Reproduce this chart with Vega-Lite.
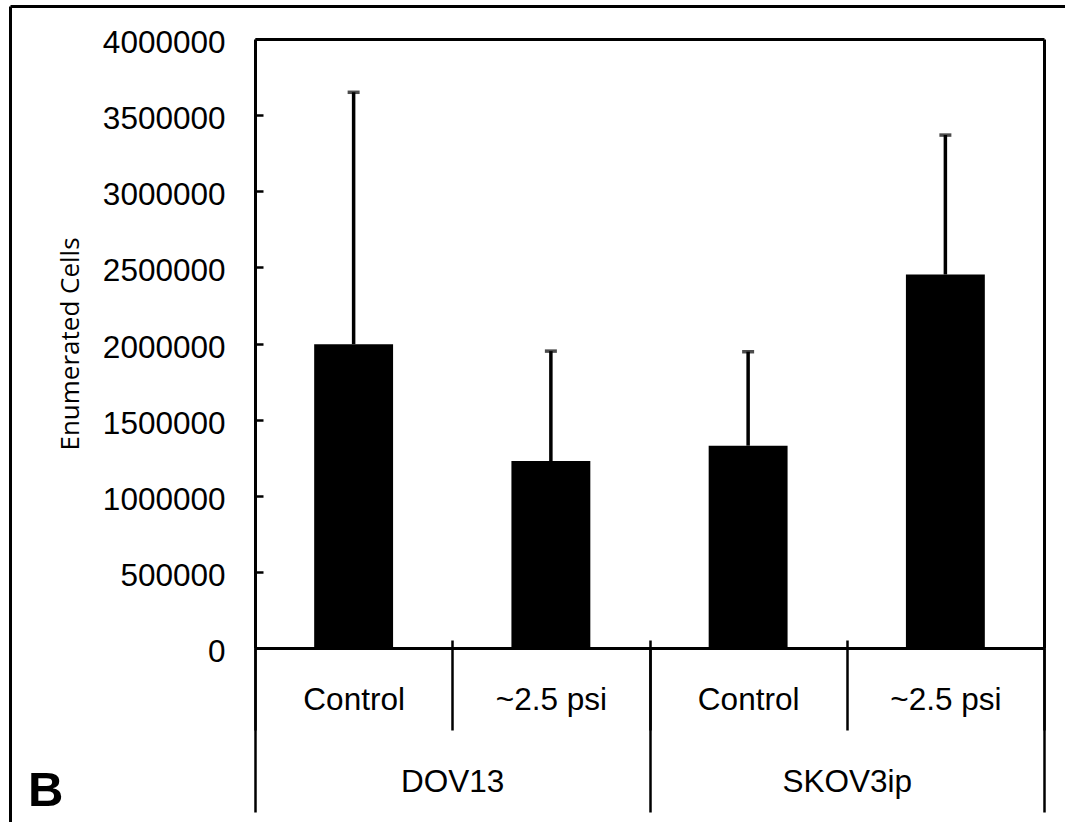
{
  "$schema": "https://vega.github.io/schema/vega-lite/v6.json",
  "width": 1055,
  "height": 816,
  "autosize": {"type": "none"},
  "padding": {"left": 10, "top": 6, "right": 0, "bottom": 0},
  "background": "white",
  "title": {
    "text": "B",
    "orient": "bottom",
    "anchor": "start",
    "frame": "group",
    "font": "Liberation Sans",
    "fontSize": 49,
    "fontWeight": "bold",
    "color": "black",
    "baseline": "alphabetic",
    "offset": -16,
    "dx": 18
  },
  "datasets": {
    "bars": [
      {"key": "DOV13|Control", "group": "DOV13", "cond": "Control", "mean": 1995000, "upper": 3650000},
      {"key": "DOV13|~2.5 psi", "group": "DOV13", "cond": "~2.5 psi", "mean": 1228000, "upper": 1950000},
      {"key": "SKOV3ip|Control", "group": "SKOV3ip", "cond": "Control", "mean": 1329000, "upper": 1946000},
      {"key": "SKOV3ip|~2.5 psi", "group": "SKOV3ip", "cond": "~2.5 psi", "mean": 2454000, "upper": 3369000}
    ],
    "groups": [
      {"group": "DOV13"},
      {"group": "SKOV3ip"}
    ]
  },
  "config": {
    "view": {"stroke": null},
    "axis": {
      "grid": false,
      "domainColor": "black",
      "tickColor": "black",
      "labelColor": "black",
      "titleColor": "black",
      "labelFont": "Liberation Sans",
      "labelFontSize": 31.5,
      "domainWidth": 3,
      "tickWidth": 2.5
    }
  },
  "resolve": {
    "scale": {"x": "independent", "y": "independent"},
    "axis": {"x": "independent", "y": "independent"}
  },
  "layer": [
    {
      "data": {"name": "bars"},
      "mark": {"type": "bar", "color": "black", "width": {"band": 0.4}},
      "encoding": {
        "x": {
          "field": "key", "type": "nominal",
          "scale": {"domain": ["DOV13|Control", "DOV13|~2.5 psi", "SKOV3ip|Control", "SKOV3ip|~2.5 psi"], "range": [245, 1034], "paddingInner": 0, "paddingOuter": 0},
          "axis": {
            "orient": "bottom", "offset": -182, "title": null, "domain": false,
            "ticks": true, "tickBand": "extent", "tickSize": 90,
            "labelExpr": "split(datum.value, '|')[1]",
            "labelAngle": 0, "labelBaseline": "alphabetic", "labelPadding": -20.5,
            "labelOverlap": false
          }
        },
        "y": {
          "field": "mean", "type": "quantitative",
          "scale": {"domain": [0, 4000000], "range": [642, 33], "nice": false, "zero": true},
          "axis": {
            "orient": "left", "offset": -245,
            "values": [0, 500000, 1000000, 1500000, 2000000, 2500000, 3000000, 3500000, 4000000],
            "format": "d",
            "tickSize": -8,
            "labelPadding": 38, "labelBaseline": "alphabetic", "labelOffset": 13.5,
            "labelOverlap": false,
            "title": "Enumerated Cells",
            "titleFont": "Open Sans", "titleFontSize": 26, "titleFontWeight": "normal",
            "titlePadding": 19
          }
        }
      }
    },
    {
      "data": {"name": "bars"},
      "mark": {"type": "rule", "color": "black", "strokeWidth": 3.5},
      "encoding": {
        "x": {
          "field": "key", "type": "nominal",
          "scale": {"domain": ["DOV13|Control", "DOV13|~2.5 psi", "SKOV3ip|Control", "SKOV3ip|~2.5 psi"], "range": [245, 1034], "paddingInner": 0, "paddingOuter": 0},
          "axis": {"orient": "top", "offset": -33, "title": null, "domain": true, "ticks": false, "labels": false}
        },
        "y": {
          "field": "mean", "type": "quantitative",
          "scale": {"domain": [0, 4000000], "range": [642, 33], "nice": false, "zero": true},
          "axis": {"orient": "right", "offset": -21, "title": null, "domain": true, "ticks": false, "labels": false}
        },
        "y2": {"field": "upper"}
      }
    },
    {
      "data": {"name": "bars"},
      "mark": {"type": "tick", "color": "black", "size": 12, "thickness": 3.5, "orient": "horizontal"},
      "encoding": {
        "x": {
          "field": "key", "type": "nominal",
          "scale": {"domain": ["DOV13|Control", "DOV13|~2.5 psi", "SKOV3ip|Control", "SKOV3ip|~2.5 psi"], "range": [245, 1034], "paddingInner": 0, "paddingOuter": 0},
          "axis": null
        },
        "y": {
          "field": "upper", "type": "quantitative",
          "scale": {"domain": [0, 4000000], "range": [642, 33], "nice": false, "zero": true},
          "axis": null
        }
      }
    },
    {
      "data": {"name": "groups"},
      "mark": {"type": "point", "opacity": 0},
      "encoding": {
        "x": {
          "field": "group", "type": "nominal",
          "scale": {"domain": ["DOV13", "SKOV3ip"], "range": [245, 1034], "paddingInner": 0, "paddingOuter": 0},
          "axis": {
            "orient": "bottom", "offset": -174, "title": null, "domain": true,
            "ticks": true, "tickBand": "extent", "tickSize": 164,
            "labelAngle": 0, "labelBaseline": "alphabetic", "labelPadding": -20.3,
            "labelOverlap": false
          }
        }
      }
    },
    {
      "data": {"name": "bars"},
      "mark": {"type": "point", "opacity": 0},
      "encoding": {
        "x": {
          "field": "group", "type": "nominal",
          "scale": {"range": [0, 1055], "paddingInner": 0, "paddingOuter": 0},
          "axis": {"orient": "top", "offset": 0, "title": null, "domain": true, "ticks": false, "labels": false}
        },
        "y": {
          "field": "mean", "type": "quantitative",
          "scale": {"domain": [0, 4000000], "range": [816, 0], "nice": false},
          "axis": {"orient": "left", "offset": 0, "title": null, "domain": true, "ticks": false, "labels": false}
        }
      }
    }
  ]
}
